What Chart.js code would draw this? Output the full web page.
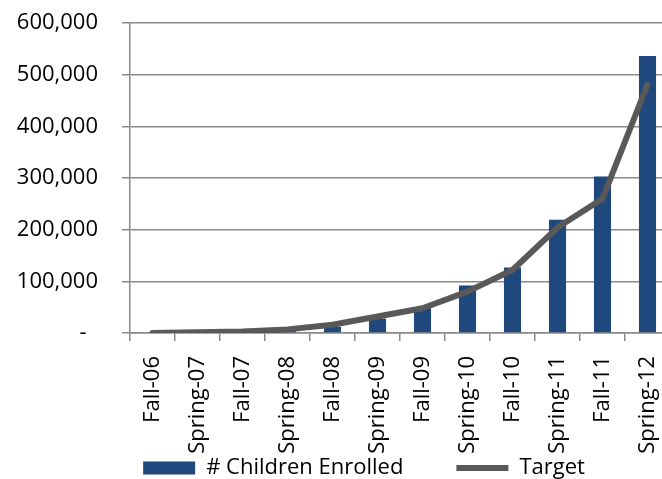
<!DOCTYPE html>
<html>
<head>
<meta charset="utf-8">
<script src="https://cdn.jsdelivr.net/npm/chart.js@4.4.1/dist/chart.umd.min.js"></script>
<style>
  html, body { margin: 0; padding: 0; background: #fff; overflow: hidden; }
  #wrap { position: absolute; left: 0; top: 0; width: 670px; height: 479px; }
</style>
</head>
<body>
<div id="wrap"><canvas id="enrollChart" width="670" height="479"></canvas></div>
<script>
// Chart data
const terms = ['Fall-06', 'Spring-07', 'Fall-07', 'Spring-08', 'Fall-08', 'Spring-09',
               'Fall-09', 'Spring-10', 'Fall-10', 'Spring-11', 'Fall-11', 'Spring-12'];
const childrenEnrolled = [0, 0, 1000, 4000, 12000, 28000, 48000, 92000, 127000, 219000, 303000, 536000];
const target = [0, 1500, 3000, 7000, 16000, 32000, 48000, 80000, 122000, 204000, 260000, 481000];
const yTickValues = [0, 100000, 200000, 300000, 400000, 500000, 600000];

const gridGray = '#8a8a8a';
const fontFamily = "'Open Sans', 'Noto Sans', sans-serif";

Chart.defaults.font.family = fontFamily;
Chart.defaults.color = '#000';

// let tick labels spill outside their axis box (they overlap the padding / legend area)
const noLabelClip = (scale) => { scale._computeLabelArea = () => undefined; };

const ctx = document.getElementById('enrollChart');
new Chart(ctx, {
    type: 'bar',
    data: {
        labels: terms,
        datasets: [{
            type: 'bar',
            label: '# Children Enrolled',
            data: childrenEnrolled,
            backgroundColor: '#1f497d',
            borderWidth: 0,
            barPercentage: 0.38,
            categoryPercentage: 1,
            pointStyle: 'rect',
            order: 1
        }, {
            type: 'line',
            label: 'Target',
            data: target,
            borderColor: '#595959',
            backgroundColor: '#595959',
            borderWidth: 6,
            borderCapStyle: 'round',
            borderJoinStyle: 'round',
            tension: 0,
            pointRadius: 0,
            pointStyle: 'line',
            order: 0
        }]
    },
    options: {
        responsive: false,
        animation: false,
        layout: {
            padding: { top: 23, left: 58, right: 0, bottom: -10 }
        },
        plugins: {
            tooltip: { enabled: false },
            legend: {
                position: 'bottom',
                labels: {
                    usePointStyle: true,
                    pointStyleWidth: 52,
                    boxWidth: 52,
                    boxHeight: 13,
                    padding: 53,
                    font: { size: 22 },
                    color: '#000',
                    sort: (a, b) => a.datasetIndex - b.datasetIndex
                }
            }
        },
        scales: {
            x: {
                offset: true,
                grid: {
                    offset: true,
                    drawOnChartArea: false,
                    color: gridGray,
                    lineWidth: 1.5,
                    tickLength: 8
                },
                border: { color: gridGray, width: 1.5 },
                ticks: {
                    minRotation: 90,
                    maxRotation: 90,
                    autoSkip: false,
                    padding: 15,
                    font: { size: 22 }
                },
                afterFit: (scale) => {
                    scale.paddingLeft = 0;
                    scale.paddingRight = 0;
                    scale.height = 71;
                    noLabelClip(scale);
                }
            },
            y: {
                min: 0,
                max: 600000,
                afterBuildTicks: (scale) => {
                    scale.ticks = yTickValues.map(v => ({ value: v }));
                },
                grid: {
                    color: gridGray,
                    lineWidth: 1.5,
                    tickLength: 8
                },
                border: { color: gridGray, width: 1.5 },
                ticks: {
                    padding: 24,
                    font: { size: 22 },
                    callback: (value) => value === 0 ? '-  ' : value.toLocaleString('en-US')
                },
                afterFit: (scale) => {
                    scale.width = 72;
                    scale.paddingTop = 0;
                    scale.paddingBottom = 0;
                    noLabelClip(scale);
                }
            }
        }
    }
});
</script>
</body>
</html>
